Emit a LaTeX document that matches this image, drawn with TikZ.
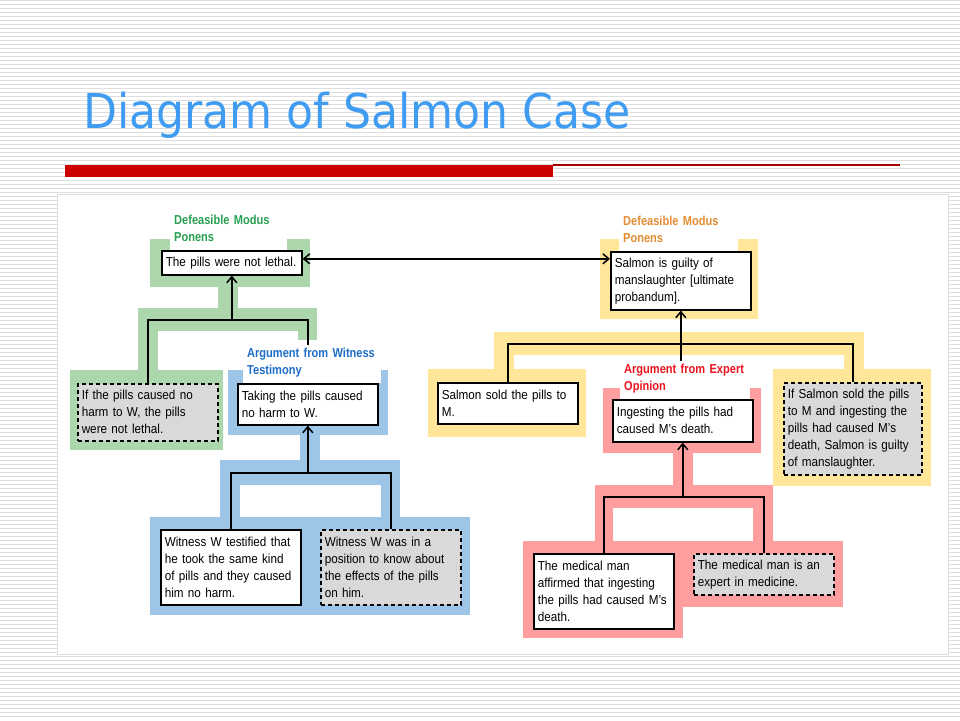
\documentclass[tikz,border=0pt]{standalone}
\usepackage{fontspec}
\setmainfont{Liberation Sans}
\newfontfamily\boxfont[FakeStretch=0.9]{Liberation Sans}
\newfontfamily\schemefont[FakeStretch=0.85]{Liberation Sans}
\newfontfamily\titlefont[FakeStretch=0.92]{DejaVu Sans}
\usepackage{tikz}
\usetikzlibrary{positioning,arrows.meta}
\definecolor{gband}{RGB}{172,215,172}
\definecolor{bband}{RGB}{157,197,232}
\definecolor{yband}{RGB}{255,230,153}
\definecolor{rband}{RGB}{255,158,158}
\definecolor{premgray}{RGB}{217,217,217}
\definecolor{gtext}{RGB}{40,160,80}
\definecolor{btext}{RGB}{30,110,200}
\definecolor{ytext}{RGB}{228,140,50}
\definecolor{rtext}{RGB}{235,20,30}
\definecolor{titleblue}{RGB}{64,156,240}
\definecolor{barred}{RGB}{204,0,0}
\definecolor{stripegray}{RGB}{222,222,222}
\tikzstyle{claim} = [draw=black, fill=white, line width=1.6pt, rectangle, anchor=north west, align=left, text width=132pt, inner xsep=4pt, font={\boxfont\fontsize{13pt}{17pt}\selectfont}]
\tikzstyle{premise} = [claim, fill=premgray, dash pattern=on 4pt off 3pt]
\tikzstyle{schemetitle} = [fill=white, anchor=south west, align=left, inner xsep=4pt, inner ysep=3pt, execute at end node=\strut, font={\schemefont\bfseries\fontsize{13pt}{17pt}\selectfont}]
\tikzstyle{connector} = [line width=1.5pt, draw=black]
\tikzstyle{stripe} = [draw=stripegray, line width=1pt]
\begin{document}
\begin{tikzpicture}[x=1pt,y=-1pt,>={Straight Barb[length=6pt,width=10pt]}]
	\useasboundingbox (0,0) rectangle (960,720);
	\fill[white] (0,0) rectangle (960,720);
	\foreach \y in {0.7,4.7,...,719} \draw[stripe] (0,\y) -- (960,\y);
	\draw[draw=stripegray, fill=white] (57,194) rectangle (948,654);
	\node[anchor=base west, inner sep=0pt, text=titleblue, font={\titlefont\fontsize{48pt}{56pt}\selectfont}] (title) at (83,128) {Diagram of Salmon Case};
	\fill[barred] (65,165) rectangle (553,177);
	\draw[barred!80!black, line width=1.5pt] (553,165) -- (900,165);

	\fill[gband] (150,239) rectangle (310,287);
	\fill[gband] (218,287) rectangle (238,308);
	\fill[gband] (138,308) rectangle (317,331);
	\fill[gband] (138,331) rectangle (158,370);
	\fill[gband] (298,331) rectangle (317,340);
	\fill[gband] (70,370) rectangle (223,450);

	\fill[bband] (228,370) rectangle (388,435);
	\fill[bband] (300,435) rectangle (320,460);
	\fill[bband] (220,460) rectangle (400,485);
	\fill[bband] (220,485) rectangle (240,517);
	\fill[bband] (381,485) rectangle (400,517);
	\fill[bband] (150,517) rectangle (470,615);

	\fill[yband] (600,239) rectangle (758,319);
	\fill[yband] (494,332) rectangle (864,355);
	\fill[yband] (494,355) rectangle (514,369);
	\fill[yband] (844,355) rectangle (864,369);
	\fill[yband] (428,369) rectangle (586,437);
	\fill[yband] (773,369) rectangle (931,486);

	\fill[rband] (603,388) rectangle (761,453);
	\fill[rband] (673,453) rectangle (693,485);
	\fill[rband] (595,485) rectangle (773,508);
	\fill[rband] (595,508) rectangle (613,541);
	\fill[rband] (753,508) rectangle (773,541);
	\fill[rband] (523,541) rectangle (843,607);
	\fill[rband] (523,607) rectangle (683,638);

	\node[claim, minimum height=24pt] (lethal) at (161,250) {The pills were not lethal.};
	\node[premise, minimum height=57pt] (ifharm) at (77,383) {If the pills caused no\\harm to W, the pills\\were not lethal.};
	\node[claim, minimum height=41pt] (taking) at (237,383) {Taking the pills caused\\no harm to W.};
	\node[claim, minimum height=75pt] (testified) at (160,529) {Witness W testified that\\he took the same kind\\of pills and they caused\\him no harm.};
	\node[premise, minimum height=75pt] (position) at (320,529) {Witness W was in a\\position to know about\\the effects of the pills\\on him.};
	\node[claim, minimum height=58pt] (guilty) at (610,251) {Salmon is guilty of\\manslaughter [ultimate\\probandum].};
	\node[claim, minimum height=41pt] (sold) at (437,382) {Salmon sold the pills to\\M.};
	\node[premise, text width=130pt, minimum height=92pt] (ifsalmon) at (783,382) {If Salmon sold the pills\\to M and ingesting the\\pills had caused M’s\\death, Salmon is guilty\\of manslaughter.};
	\node[claim, minimum height=42pt] (ingesting) at (612,399) {Ingesting the pills had\\caused M’s death.};
	\node[claim, minimum height=75pt] (affirmed) at (533,553) {The medical man\\affirmed that ingesting\\the pills had caused M’s\\death.};
	\node[premise, minimum height=41pt] (expert) at (693,553) {The medical man is an\\expert in medicine.};

	\coordinate (gbus) at (0,320);
	\coordinate (bbus) at (0,473);
	\coordinate (ybus) at (0,344);
	\coordinate (rbus) at (0,497);
	\draw[connector] (ifharm.north) |- (lethal.south |- gbus) -| (taking.north);
	\draw[connector,->] (lethal.south |- gbus) -- (lethal.south);
	\draw[connector] (testified.north) |- (taking.south |- bbus) -| (position.north);
	\draw[connector,->] (taking.south |- bbus) -- (taking.south);
	\draw[connector] (sold.north) |- (guilty.south |- ybus) -| (ifsalmon.north);
	\draw[connector,->] (guilty.south |- ingesting.north) -- (guilty.south);
	\draw[connector] (affirmed.north) |- (ingesting.south |- rbus) -| (expert.north);
	\draw[connector,->] (ingesting.south |- rbus) -- (ingesting.south);
	\draw[connector,<->] ([yshift=4pt]lethal.east) -- ([yshift=4pt]lethal.east -| guilty.west);

	\node[schemetitle, text=gtext, text width=109pt] (gscheme) at (170,250) {Defeasible Modus\\Ponens};
	\node[schemetitle, text=btext, text width=130pt] (bscheme) at (243,383) {Argument from Witness\\Testimony};
	\node[schemetitle, text=ytext, text width=111pt] (yscheme) at (619,251) {Defeasible Modus\\Ponens};
	\node[schemetitle, text=rtext, text width=122pt] (rscheme) at (620,399) {Argument from Expert\\Opinion};
\end{tikzpicture}
\end{document}
